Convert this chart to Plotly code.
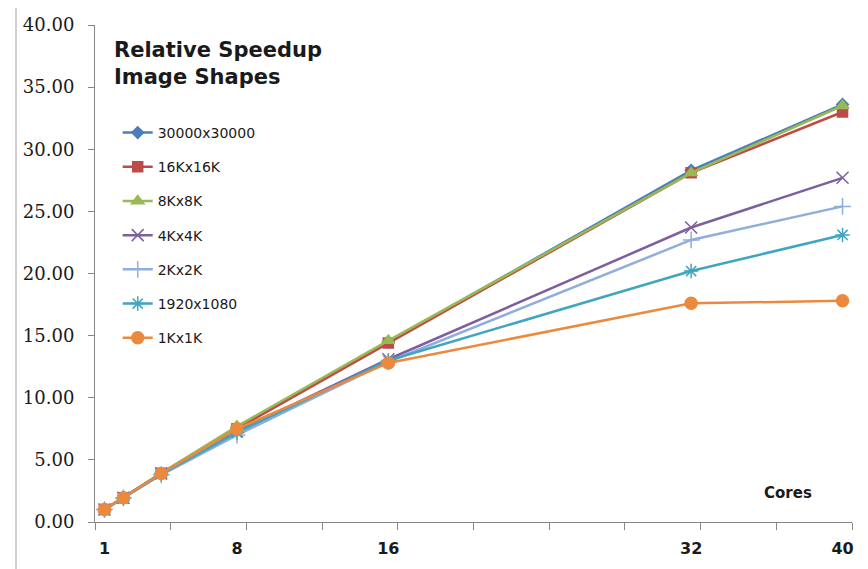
import plotly.graph_objects as go

cores = [1, 2, 4, 8, 16, 32, 40]
s30000 = [1.0, 1.96, 3.92, 7.6, 14.5, 28.3, 33.6]
s16k = [1.0, 1.96, 3.92, 7.5, 14.4, 28.1, 33.0]
s8k = [1.0, 1.97, 3.94, 7.7, 14.6, 28.1, 33.5]
s4k = [1.0, 1.95, 3.90, 7.3, 13.1, 23.7, 27.7]
s2k = [1.0, 1.93, 3.80, 7.0, 12.9, 22.7, 25.4]
s1920 = [1.0, 1.94, 3.85, 7.2, 13.0, 20.2, 23.1]
s1k = [1.0, 1.95, 3.90, 7.5, 12.8, 17.6, 17.8]

names = ["30000x30000", "16Kx16K", "8Kx8K", "4Kx4K", "2Kx2K", "1920x1080", "1Kx1K"]
series = [s30000, s16k, s8k, s4k, s2k, s1920, s1k]
colors = ["#4A7EBB", "#BE4B48", "#98B954", "#7D5FA0", "#8EAEDB", "#3FA5C0", "#EB8A3E"]
symbols = ["diamond", "square", "triangle-up", "x-thin-open", "cross-thin-open", "asterisk-open", "circle"]
sizes = [9, 10, 11, 12, 12, 12, 12]

xlabels = [1, 8, 16, 32, 40]
minor_ticks = [0.5 + 4 * i for i in range(11)]

fig = go.Figure()
for i, (nm, ys) in enumerate(zip(names, series)):
    fig.add_trace(go.Scatter(
        x=cores, y=ys, name=nm, mode="lines+markers",
        legendgroup=nm,
        line=dict(color=colors[i], width=2.5),
        marker=dict(symbol=symbols[i], size=sizes[i], color=colors[i],
                    line=dict(color=colors[i], width=1.5)),
    ))

# page body has an 8px margin; figure coords = screen coords - 8
axis_col = "#868686"
PL, PR, PT, PB = 95, 852, 25, 521.7   # plot area in screen px
PW, PH = PR - PL, PB - PT


def px(x):
    return (x - PL) / PW


def py(y):
    return (PB - y) / PH


fig.update_layout(
    width=860, height=561,
    margin=dict(l=PL - 8, r=860 - (PR - 8), t=PT - 8, b=561 - (PB - 8), autoexpand=False),
    paper_bgcolor="white", plot_bgcolor="white",
    showlegend=True,
    legend=dict(x=0.030, y=0.815, xanchor="left", yanchor="top",
                bgcolor="rgba(0,0,0,0)", tracegroupgap=13,
                font=dict(family="DejaVu Sans", size=14, color="#1a1a1a")),
    xaxis=dict(range=[0.5, 40.5], tickmode="array", tickvals=xlabels,
               ticktext=[str(v) for v in xlabels], ticks="",
               showgrid=False, zeroline=False, showline=True,
               linecolor=axis_col, linewidth=1,
               ticklabelstandoff=12,
               tickfont=dict(family="DejaVu Sans", size=16, weight="bold", color="#1a1a1a"),
               minor=dict(tickmode="array", tickvals=minor_ticks, ticks="outside",
                          ticklen=7, tickcolor=axis_col, tickwidth=1, showgrid=False)),
    yaxis=dict(range=[0, 40], dtick=5, tick0=0, tickformat=".2f",
               ticks="outside", ticklen=6, tickcolor=axis_col,
               showgrid=False, zeroline=False, showline=True,
               linecolor=axis_col, linewidth=1, ticklabelstandoff=10,
               tickfont=dict(family="DejaVu Serif", size=18, color="#1a1a1a")),
    annotations=[
        dict(text="<b>Relative Speedup<br>Image Shapes</b>", xref="paper", yref="paper",
             x=px(112), y=py(36), xanchor="left", yanchor="top",
             align="left", showarrow=False,
             font=dict(family="DejaVu Sans", size=21, color="#1a1a1a")),
        dict(text="<b>Cores</b>", xref="paper", yref="paper",
             x=px(788), y=py(493), xanchor="center", yanchor="middle",
             showarrow=False, font=dict(family="DejaVu Sans", size=15, color="#1a1a1a")),
    ],
    shapes=[dict(type="rect", xref="paper", yref="paper",
                 x0=px(16), x1=px(866), y0=py(600), y1=py(6),
                 line=dict(color="#A0A0A0", width=1), fillcolor="rgba(0,0,0,0)", layer="below")],
)

fig.write_html("out.html")
